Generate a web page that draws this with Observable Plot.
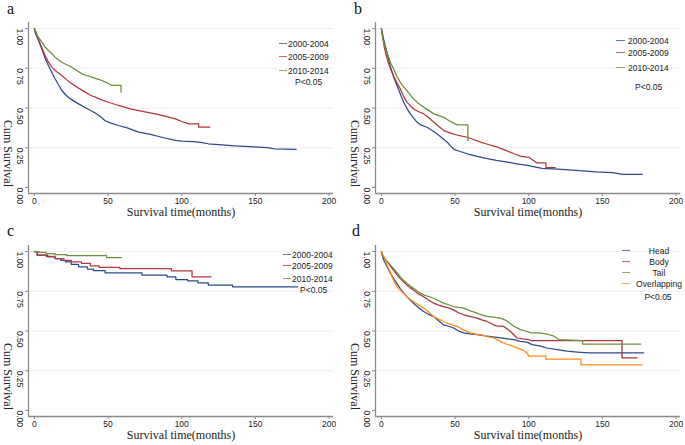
<!DOCTYPE html>
<html><head><meta charset="utf-8">
<script src="https://cdn.jsdelivr.net/npm/d3@7"></script>
<script src="https://cdn.jsdelivr.net/npm/@observablehq/plot@0.6"></script>
<style>
body{margin:0;background:#fff;}
#page{position:relative;width:685px;height:445px;overflow:hidden;background:#fff;font-family:"Liberation Sans",Arial,sans-serif;}
.panel{position:absolute;}
.letter{position:absolute;font-family:"Liberation Serif","Times New Roman",serif;font-size:16px;line-height:1;color:#111;}
.lg{position:absolute;font-size:8.5px;line-height:1;color:#222;transform:translateY(-50%);white-space:nowrap;}
.sw{position:absolute;height:0;border-top:1.3px solid;opacity:0.75;}
</style></head><body><div id="page"></div>
<script>
// ---- tick labels / categories ----
const xTicks = [0, 50, 100, 150, 200];
const yTicks = [0, 0.25, 0.5, 0.75, 1];
const periodLabels = ["2000-2004", "2005-2009", "2010-2014"];
const siteLabels = ["Head", "Body", "Tail", "Overlapping"];
const pLabel = "P<0.05";
const xTitle = "Survival time(months)";
const yTitle = "Cum Survival";

// ---- panel a : [months, cum survival] ----
const a2000 = [[0,1],[0.7,0.97],[3,0.92],[5,0.872],[7,0.82],[9.5,0.767],[12,0.72],[14,0.684],[16.5,0.645],[18.6,0.61],[21,0.585],[23,0.568],[26,0.548],[30,0.526],[35,0.5],[41,0.47],[45,0.445],[48,0.42],[52,0.405],[57,0.39],[63,0.375],[70.7,0.348],[78,0.335],[86.4,0.316],[95.7,0.296],[100,0.292],[108,0.289],[113,0.283],[118,0.275],[125,0.27],[136,0.262],[149,0.256],[158,0.25],[163,0.243],[177.7,0.24]];
const a2005 = [[0,1],[1.5,0.965],[2.7,0.935],[5,0.88],[7.3,0.83],[9.5,0.79],[11.8,0.757],[15,0.73],[18.6,0.704],[22,0.677],[25.4,0.652],[30,0.625],[34.5,0.6],[38,0.58],[41.3,0.568],[46,0.55],[50.3,0.536],[55,0.522],[59.4,0.51],[65,0.495],[70.7,0.484],[76,0.474],[82,0.463],[88,0.45],[95.7,0.432],[100,0.415],[104.8,0.40],[111.5,0.40],[111.5,0.38],[119,0.38]];
const a2010 = [[0,1],[2,0.955],[5,0.914],[7,0.888],[9.5,0.862],[12,0.84],[14,0.82],[18.6,0.788],[22,0.772],[25.4,0.757],[29,0.735],[32.2,0.715],[36,0.703],[39,0.694],[42,0.685],[45.8,0.673],[49,0.66],[52.6,0.642],[58.8,0.642],[58.8,0.60]];

// ---- panel b ----
const b2000 = [[0,1],[1.6,0.93],[4,0.84],[6.1,0.76],[8.5,0.69],[10.7,0.64],[13,0.585],[15.2,0.535],[17.5,0.495],[19.7,0.463],[22,0.435],[24.3,0.41],[27,0.392],[31,0.379],[34.5,0.358],[37.9,0.337],[41,0.313],[44.7,0.285],[47,0.26],[49.2,0.24],[53,0.228],[58.3,0.212],[65,0.196],[72,0.181],[78,0.17],[85.5,0.16],[92,0.148],[99,0.139],[104,0.13],[109,0.12],[120,0.116],[132,0.108],[145.6,0.098],[157,0.094],[163.8,0.083],[177,0.083]];
const b2005 = [[0,1],[2,0.88],[3.9,0.81],[6,0.75],[8.4,0.70],[10.5,0.66],[12.9,0.62],[15,0.575],[17.5,0.535],[20,0.51],[22,0.494],[25,0.478],[28.8,0.463],[32,0.44],[35.6,0.41],[39,0.383],[42.4,0.358],[47,0.342],[51.5,0.33],[58.3,0.316],[63,0.30],[67.3,0.285],[72,0.272],[78.7,0.254],[84,0.235],[90,0.212],[95,0.196],[100,0.19],[104,0.165],[105.5,0.154],[111.7,0.154],[111.7,0.125],[118,0.125]];
const b2010 = [[0,1],[1,0.93],[2,0.9],[3.9,0.848],[6,0.79],[8.4,0.744],[10.5,0.70],[12.9,0.66],[15,0.635],[17.5,0.608],[20,0.578],[22,0.556],[25,0.53],[28.8,0.504],[32,0.485],[35.6,0.463],[39,0.452],[42.4,0.441],[46,0.42],[49,0.405],[51.5,0.394],[58.7,0.394],[58.7,0.296],[59,0.296]];

// ---- panel c (step times) ----
const c2000 = [[0,1],[2,0.977],[9,0.966],[14,0.956],[18,0.945],[21,0.935],[25,0.92],[30,0.904],[36,0.89],[40,0.88],[48,0.866],[73,0.851],[90,0.84],[96,0.824],[104,0.816],[111,0.803],[118,0.789],[134.5,0.778],[178.7,0.778]];
const c2005 = [[0,1],[1.8,0.977],[8,0.97],[14,0.956],[20,0.945],[25,0.935],[32,0.925],[38,0.91],[44,0.9],[58,0.893],[93,0.878],[107,0.84],[119.7,0.84]];
const c2010 = [[0,1],[3,0.994],[8,0.987],[14,0.981],[22,0.975],[49,0.962],[59,0.962]];

// ---- panel d ----
const dHead = [[0,1],[1,0.96],[2.5,0.93],[4.1,0.9],[6,0.865],[8.2,0.831],[10.5,0.8],[12.7,0.769],[15,0.74],[17.3,0.716],[19.5,0.695],[21.8,0.675],[25,0.65],[28.6,0.623],[32,0.605],[35.4,0.592],[38.8,0.565],[42.2,0.539],[45.6,0.53],[49,0.519],[52.4,0.5],[55.8,0.488],[60,0.482],[64.9,0.477],[71.7,0.467],[80.8,0.456],[89.8,0.446],[94.3,0.435],[98.9,0.43],[102.2,0.414],[108,0.405],[112.4,0.393],[119.2,0.383],[126,0.373],[135,0.366],[141.9,0.362],[178,0.362]];
const dBody = [[0,1],[1,0.97],[4.1,0.935],[6,0.91],[8.2,0.883],[10.5,0.855],[12.7,0.831],[15,0.81],[17.3,0.79],[19.5,0.773],[21.8,0.758],[25,0.735],[28.6,0.716],[32,0.695],[35.4,0.675],[38.8,0.663],[42.2,0.654],[45.6,0.645],[49,0.633],[52.4,0.615],[55.8,0.602],[60,0.592],[64.9,0.581],[68,0.57],[71.7,0.56],[76.2,0.539],[78,0.532],[83,0.529],[85,0.515],[87.5,0.498],[90,0.475],[92,0.456],[96,0.45],[100,0.445],[102,0.439],[163.3,0.439],[163.3,0.331],[173.5,0.331]];
const dTail = [[0,1],[1,0.97],[4.1,0.935],[6,0.915],[8.2,0.894],[10.5,0.868],[12.7,0.842],[15,0.82],[17.3,0.8],[19.5,0.785],[21.8,0.769],[25,0.748],[28.6,0.727],[32,0.717],[35.4,0.706],[38.8,0.69],[42.2,0.675],[45.6,0.665],[49,0.654],[52.4,0.648],[55.8,0.644],[60,0.628],[64.9,0.612],[68,0.602],[71.7,0.592],[76,0.587],[80.8,0.581],[85,0.565],[89.8,0.53],[94,0.51],[98,0.5],[101,0.49],[108,0.487],[112.4,0.481],[117,0.468],[120.6,0.446],[136.5,0.44],[136.5,0.418],[176,0.418]];
const dOverlap = [[0,1],[1,0.98],[2.5,0.956],[4,0.91],[5.9,0.873],[7.5,0.835],[9.3,0.8],[11,0.775],[12.7,0.758],[15,0.735],[17.3,0.716],[19.5,0.7],[21.8,0.685],[25,0.665],[28.6,0.644],[32,0.62],[35.4,0.592],[38.8,0.575],[42.2,0.56],[46,0.545],[51.3,0.529],[55,0.51],[60.3,0.488],[64,0.48],[67.1,0.477],[72,0.465],[76.2,0.456],[80.8,0.435],[85.3,0.415],[88,0.41],[92,0.394],[96,0.38],[98.9,0.362],[100,0.342],[111.6,0.342],[111.6,0.323],[135.4,0.323],[135.4,0.2875],[177,0.2875]];

// ---- styling ----
const BLUE = "#2c4a8a", RED = "#b5373d", GREEN = "#6b8e3a", ORANGE = "#ff8c1a", DRED = "#a8343b";
const AXIS = "#8a8a8a";
const SERIF = "Liberation Serif, Times New Roman, serif";
const xDomain = [-4, 203], yDomain = [-0.038, 1.038];

const page = document.getElementById("page");

function makePanel(series, colors, {left, top, width = 342, height = 222, curve = "linear", marginBottom = 29}) {
  const lineMarks = series.map((s, i) => Plot.line(s, {x: d => d[0], y: d => d[1], stroke: colors[i], strokeWidth: 1.25, curve}));
  const chart = Plot.plot({
    width, height,
    marginLeft: 28, marginRight: width - 333, marginTop: 22, marginBottom,
    x: {domain: xDomain},
    y: {domain: yDomain},
    style: {background: "transparent", fontFamily: "Liberation Sans, Arial, sans-serif", fontSize: "9px", overflow: "visible"},
    marks: [
      Plot.ruleY(yTicks.slice(1), {stroke: "#eeeeee", strokeWidth: 1}),
      Plot.ruleX([xDomain[0]], {stroke: AXIS, strokeWidth: 1.3}),
      Plot.ruleY([yDomain[0]], {stroke: AXIS, strokeWidth: 1.3}),
      Plot.axisX({ticks: xTicks, tickSize: 3, tickPadding: 1, fontSize: 8.5, label: null, stroke: AXIS, fill: "#222"}),
      Plot.axisY({ticks: yTicks, tickSize: 3, tickFormat: () => "", label: null, stroke: AXIS}),
      Plot.text(yTicks, {y: d => d, frameAnchor: "left", dx: -9, rotate: 90, text: d => d.toFixed(2), fontSize: 8.5, fill: "#222"}),
      Plot.text([yTitle], {frameAnchor: "left", dx: -21, dy: 12, rotate: 90, text: d => d, fontFamily: SERIF, fontSize: 12, fill: "#222"}),
      Plot.text([xTitle], {frameAnchor: "bottom", dy: 22.5, text: d => d, fontFamily: SERIF, fontSize: 12, fill: "#222"}),
      ...lineMarks
    ]
  });
  const div = document.createElement("div");
  div.className = "panel";
  div.style.left = left + "px";
  div.style.top = top + "px";
  div.appendChild(chart);
  page.appendChild(div);
}

function addLetter(ch, x, y) {
  const el = document.createElement("div");
  el.className = "letter";
  el.textContent = ch;
  el.style.left = x + "px";
  el.style.top = y + "px";
  page.appendChild(el);
}

function addLegend(labels, colors, {swX, swW, textX, ys, center = false, pX, pY, pCenter = false}) {
  labels.forEach((lab, i) => {
    const sw = document.createElement("div");
    sw.className = "sw";
    sw.style.left = swX + "px";
    sw.style.width = swW + "px";
    sw.style.top = (ys[i] - 0.6) + "px";
    sw.style.borderTopColor = colors[i];
    page.appendChild(sw);
    const t = document.createElement("div");
    t.className = "lg";
    t.textContent = lab;
    t.style.top = ys[i] + "px";
    if (center) { t.style.left = textX + "px"; t.style.transform = "translate(-50%,-50%)"; }
    else t.style.left = textX + "px";
    page.appendChild(t);
  });
  const p = document.createElement("div");
  p.className = "lg";
  p.textContent = pLabel;
  p.style.top = pY + "px";
  p.style.left = pX + "px";
  if (pCenter) p.style.transform = "translate(-50%,-50%)";
  page.appendChild(p);
}

const periodColors = [BLUE, RED, GREEN];
const siteColors = [BLUE, DRED, GREEN, ORANGE];

makePanel([a2000, a2005, a2010], periodColors, {left: 0, top: 0});
makePanel([b2000, b2005, b2010], periodColors, {left: 347, top: 0, width: 338});
makePanel([c2000, c2005, c2010], periodColors, {left: 0, top: 223, height: 222, marginBottom: 29, curve: "step-after"});
makePanel([dHead, dBody, dTail, dOverlap], siteColors, {left: 347, top: 223, width: 338, height: 222, marginBottom: 29});

addLetter("a", 7, 1);
addLetter("b", 354, 1);
addLetter("c", 7, 223);
addLetter("d", 352, 223);

addLegend(periodLabels, periodColors, {swX: 279, swW: 8, textX: 288, ys: [44, 57, 71], pX: 295, pY: 82});
addLegend(periodLabels, periodColors, {swX: 616, swW: 9, textX: 628, ys: [41, 53, 68], pX: 635, pY: 87});
addLegend(periodLabels, periodColors, {swX: 283, swW: 8, textX: 292, ys: [255, 266, 279], pX: 300, pY: 290});
addLegend(siteLabels, siteColors, {swX: 622, swW: 8, textX: 659, ys: [251, 262, 273, 284], center: true, pX: 658, pY: 297, pCenter: true});
</script></body></html>
